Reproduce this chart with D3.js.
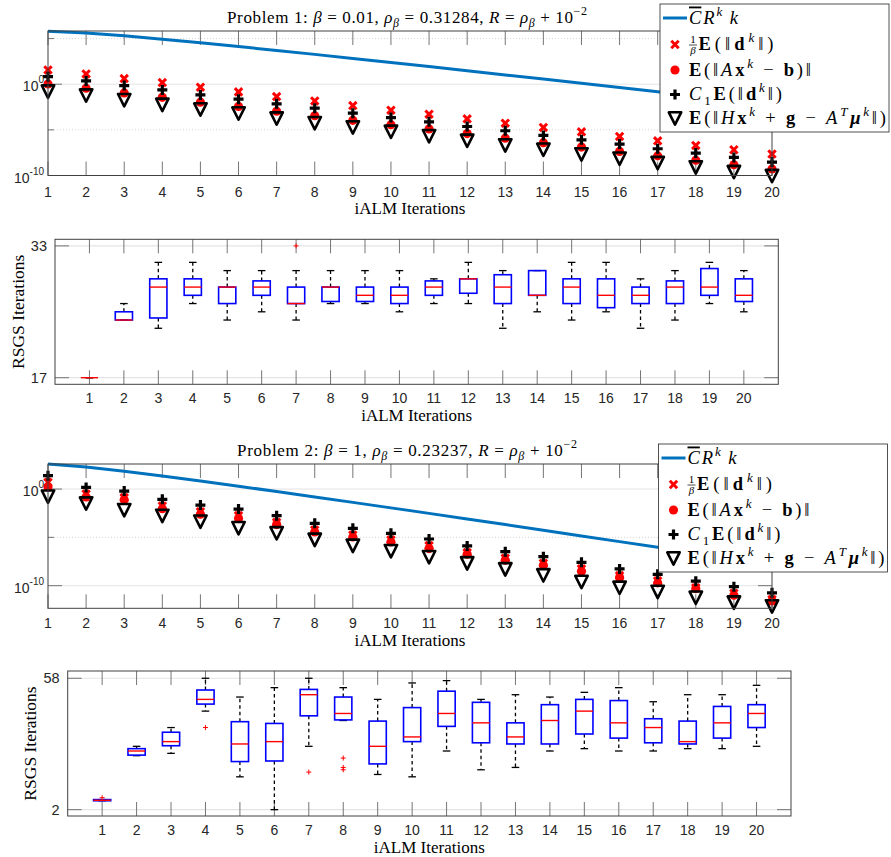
<!DOCTYPE html>
<html>
<head>
<meta charset="utf-8">
<script src="https://cdn.jsdelivr.net/npm/d3@7"></script>
<style>
  body { margin: 0; background: #fff; }
  svg { display: block; }
  text { white-space: pre; }
</style>
</head>
<body>
<svg width="891" height="857"></svg>
<script>
const SERIF = "'Liberation Serif', 'Times New Roman', serif";
const SANS = "'Liberation Sans', Arial, Helvetica, sans-serif";

let iterations = [1, 2, 3, 4, 5, 6, 7, 8, 9, 10, 11, 12, 13, 14, 15, 16, 17, 18, 19, 20];

// Problem 1 (beta = 0.01): log10 of each plotted quantity
let p1Bound    = [5.80, 5.61, 5.30, 4.93, 4.54, 4.12, 3.70, 3.27, 2.83, 2.38, 1.93, 1.48, 1.02, 0.56, 0.10, -0.36, -0.83, -1.29, -1.76, -2.23];
let p1DScaled  = [1.56, 1.13, 0.62, 0.18, -0.33, -0.84, -1.35, -1.83, -2.34, -2.85, -3.28, -3.79, -4.27, -4.74, -5.21, -5.72, -6.20, -6.71, -7.18, -7.65];
let p1Residual = [0.02, -0.44, -0.95, -1.44, -1.97, -2.43, -2.96, -3.45, -3.96, -4.43, -4.90, -5.41, -5.91, -6.40, -6.89, -7.36, -7.85, -8.33, -8.82, -9.29];
let p1DC1      = [0.83, 0.36, -0.15, -0.62, -1.17, -1.64, -2.15, -2.63, -3.17, -3.65, -4.12, -4.63, -5.10, -5.61, -6.09, -6.56, -7.07, -7.54, -8.02, -8.53];
let p1Stat     = [-0.81, -1.24, -1.75, -2.26, -2.77, -3.21, -3.76, -4.27, -4.74, -5.21, -5.69, -6.20, -6.71, -7.18, -7.69, -8.16, -8.64, -9.11, -9.62, -10.06];

// Problem 1: RSGS iterations per iALM iteration (box plot summary)
let p1Low  = [17, 24, 23, 26, 24, 25, 24, 26, 26, 25, 26, 26, 23, 25, 24, 25, 23, 24, 26, 25];
let p1Q1   = [17, 24, 24.25, 27, 26, 27, 26, 26.25, 26.25, 26, 27, 27.25, 26, 27, 26, 25.5, 26, 26, 27, 26.25];
let p1Med  = [17, 24, 28, 28, 28, 28, 26, 28, 27, 27, 28, 29, 28, 27, 28, 27, 27, 28, 28, 27];
let p1Q3   = [17, 25, 29, 29, 28, 28.75, 28, 28, 28, 28, 28.75, 29, 29.5, 30, 29, 29, 28, 28.75, 30.25, 29];
let p1High = [17, 26, 31, 31, 30, 30, 30, 30, 30, 30, 29, 31, 30, 30, 31, 31, 29, 30, 31, 30];
let p1Outliers = [[7, 33]];

// Problem 2 (beta = 1): log10 of each plotted quantity
let p2Bound    = [2.59, 2.28, 1.84, 1.35, 0.83, 0.29, -0.26, -0.82, -1.38, -1.95, -2.52, -3.10, -3.68, -4.27, -4.85, -5.44, -6.03, -6.62, -7.21, -7.80];
let p2DScaled  = [0.70, -0.51, -0.89, -1.75, -2.34, -2.75, -3.44, -4.23, -4.75, -5.26, -5.85, -6.57, -7.16, -7.68, -8.26, -8.95, -9.50, -10.21, -10.78, -11.42];
let p2Residual = [0.21, -0.82, -1.10, -2.03, -2.61, -3.06, -3.68, -4.44, -4.96, -5.47, -6.16, -6.75, -7.37, -7.89, -8.51, -9.16, -9.71, -10.30, -10.99, -11.58];
let p2DC1      = [1.38, 0.17, -0.21, -1.07, -1.66, -2.07, -2.76, -3.55, -4.07, -4.58, -5.17, -5.89, -6.48, -7.00, -7.58, -8.27, -8.82, -9.53, -10.10, -10.74];
let p2Stat     = [-0.79, -1.50, -2.19, -2.78, -3.38, -4.05, -4.58, -5.26, -5.88, -6.43, -7.05, -7.69, -8.31, -8.93, -9.62, -10.22, -10.65, -11.25, -11.75, -12.15];

// Problem 2: RSGS iterations per iALM iteration
let p2Low  = [5.8, 25, 26, 44, 16, 2, 29, 40, 17, 16, 27, 19, 20, 27, 28, 27, 27, 28, 28, 29];
let p2Q1   = [5.8, 25.25, 29.25, 47, 22.5, 22.75, 42, 40.25, 21.5, 31, 37.5, 30.5, 30, 30, 34.25, 32.5, 30.5, 30, 32.5, 37];
let p2Med  = [6, 27, 31, 49, 30, 31, 51, 43, 29, 33, 43, 39, 33, 40, 44, 39, 37, 31, 39, 43];
let p2Q3   = [6.3, 28, 35, 53, 39.5, 38.75, 53.25, 50, 39.75, 45.5, 52.5, 47.75, 39, 46.75, 49, 48.5, 40.75, 39.75, 46, 46.75];
let p2High = [6.3, 29, 37, 58, 50, 54, 58, 54, 49, 56, 57, 49, 51, 50, 52, 54, 48, 51, 51, 55];
let p2Outliers = [[1, 7.1], [4, 37], [7, 18], [8, 24], [8, 20], [8, 19]];

let legendParts = [
  [["C", "io"], ["R", "i"], ["k", "i^"], ["\u2009k", "i"]],
  [["E", "b"], ["(\u2016", ""], ["d", "b"], ["k", "i^"], ["\u2016)", ""]],
  [["E", "b"], ["(\u2016", ""], ["A", "i"], ["x", "b"], ["k", "i^"], [" \u2212 ", ""], ["b", "b"], [")\u2016", ""]],
  [["C", "i"], ["1", "_"], ["E", "b"], ["(\u2016", ""], ["d", "b"], ["k", "i^"], ["\u2016)", ""]],
  [["E", "b"], ["(\u2016", ""], ["H", "i"], ["x", "b"], ["k", "i^"], [" + ", ""], ["g", "b"], [" \u2212 ", ""],
   ["A", "i"], ["T", "i^"], ["\u03bc", "bi"], ["k", "i^"], ["\u2016)", ""]]
];
let legendWidths = [49, 75, 122, 93, 197];

let svg = d3.select("svg");
svg.append("rect").attr("width", 891).attr("height", 857).attr("fill", "#fff");

// writes a list of [text, style] pieces as tspans (i italic, b bold, ^ sup, _ sub, o overline)
function mathText(sel, parts, size) {
  let shift = 0;
  parts.forEach(function(p) {
    let s = p[1];
    let target = 0;
    if (s.indexOf("^") >= 0) target = -0.42 * size;
    if (s.indexOf("_") >= 0) target = 0.25 * size;
    let t = sel.append("tspan").text(p[0]).attr("dy", target - shift);
    shift = target;
    if (target !== 0) t.attr("font-size", Math.round(size * 0.7));
    if (s.indexOf("i") >= 0) t.attr("font-style", "italic");
    if (s.indexOf("b") >= 0) t.attr("font-weight", "bold");
    if (s.indexOf("o") >= 0) t.attr("text-decoration", "overline");
  });
}

let markers = {
  cross: "M-3.7,-3.7L3.7,3.7M-3.7,3.7L3.7,-3.7",
  plus: "M-5,0H5M0,-5V5",
  tri: "M-6.2,-6.2L6.2,-6.2L0,6.2Z"
};

function drawMarker(g, type, cx, cy) {
  let m = g.append("path").attr("transform", "translate(" + cx + "," + cy + ")");
  if (type === "cross") {
    m.attr("d", markers.cross).attr("stroke", "#ff0000").attr("stroke-width", 3).attr("fill", "none");
  } else if (type === "circle") {
    m.attr("d", d3.symbol(d3.symbolCircle, 66)()).attr("fill", "#ff0000");
  } else if (type === "plus") {
    m.attr("d", markers.plus).attr("stroke", "#000").attr("stroke-width", 3.2).attr("fill", "none");
  } else {
    m.attr("d", markers.tri).attr("stroke", "#000").attr("stroke-width", 2.6)
      .attr("stroke-linejoin", "round").attr("fill", "none");
  }
}

function xTicks(g, x, top, bottom, len) {
  iterations.forEach(function(k) {
    g.append("line").attr("x1", x(k)).attr("x2", x(k)).attr("y1", bottom).attr("y2", bottom - len)
      .attr("stroke", "#666").attr("stroke-width", 0.9);
    g.append("line").attr("x1", x(k)).attr("x2", x(k)).attr("y1", top).attr("y2", top + len)
      .attr("stroke", "#666").attr("stroke-width", 0.9);
  });
}

function xLabels(g, x, p) {
  g.selectAll(".xlab").data(iterations).enter().append("text")
    .attr("x", function(d) { return x(d); })
    .attr("y", p.bottom + p.labelGap)
    .attr("text-anchor", "middle")
    .attr("font-family", SANS).attr("font-size", 14)
    .attr("fill", "#262626")
    .text(function(d) { return d; });
  g.append("text")
    .attr("x", (p.left + p.right) / 2).attr("y", p.bottom + p.labelGap + 17.5)
    .attr("text-anchor", "middle")
    .attr("font-family", SERIF).attr("font-size", 17)
    .text("iALM Iterations");
}

function makeLogPanel(p) {
  let g = svg.append("g").attr("class", "log-panel");
  let x = d3.scaleLinear().domain([1, 20]).range([p.left, p.right]);
  let y = d3.scaleLog().domain(p.yDomain).range([p.bottom, p.top]);
  let pow = function(v) { return y(Math.pow(10, v)); };

  // grid: solid at the labelled decades, dotted at the ones in between
  p.majorExp.forEach(function(e) {
    g.append("line").attr("x1", p.left).attr("x2", p.right).attr("y1", pow(e)).attr("y2", pow(e))
      .attr("stroke", "#e4e4e4").attr("stroke-width", 1);
  });
  p.minorExp.forEach(function(e) {
    g.append("line").attr("x1", p.left).attr("x2", p.right).attr("y1", pow(e)).attr("y2", pow(e))
      .attr("stroke", "#c8c8c8").attr("stroke-width", 0.8).attr("stroke-dasharray", "1,2");
  });

  xTicks(g, x, p.top, p.bottom, 14);
  p.majorExp.concat(p.minorExp).forEach(function(e) {
    let len = p.majorExp.indexOf(e) >= 0 ? 14 : 6;
    g.append("line").attr("x1", p.left).attr("x2", p.left + len).attr("y1", pow(e)).attr("y2", pow(e))
      .attr("stroke", "#666").attr("stroke-width", 0.9);
    g.append("line").attr("x1", p.right).attr("x2", p.right - len).attr("y1", pow(e)).attr("y2", pow(e))
      .attr("stroke", "#666").attr("stroke-width", 0.9);
  });

  // bound line
  let line = d3.line()
    .x(function(d, i) { return x(iterations[i]); })
    .y(function(d) { return pow(d); });
  g.append("path").datum(p.bound).attr("d", line)
    .attr("fill", "none").attr("stroke", "#0072bd").attr("stroke-width", 3);

  let series = [[p.dScaled, "cross"], [p.residual, "circle"], [p.dC1, "plus"], [p.stat, "tri"]];
  series.forEach(function(s) {
    s[0].forEach(function(v, i) { drawMarker(g, s[1], x(iterations[i]), pow(v)); });
  });

  g.append("rect").attr("x", p.left).attr("y", p.top)
    .attr("width", p.right - p.left).attr("height", p.bottom - p.top)
    .attr("fill", "none").attr("stroke", "#404040").attr("stroke-width", 1);

  // y tick labels 10^e
  p.majorExp.forEach(function(e) {
    let t = g.append("text").attr("x", p.left - 4).attr("y", pow(e) + 7)
      .attr("text-anchor", "end").attr("font-family", SANS).attr("font-size", 14).attr("fill", "#262626");
    t.append("tspan").text("10");
    t.append("tspan").text(String(e)).attr("font-size", 10).attr("dy", -8);
  });

  xLabels(g, x, p);

  let title = g.append("text").attr("x", (p.left + p.right) / 2 - 3).attr("y", p.top - 8.5)
    .attr("text-anchor", "middle").attr("font-family", SERIF).attr("font-size", 17)
    .attr("textLength", p.titleWidth);
  mathText(title, p.title, 17);

  makeLegend(g, p.legendX, p.legendY);
}

function makeLegend(g, lx, ly) {
  let lg = g.append("g").attr("class", "legend");
  lg.append("rect").attr("x", lx).attr("y", ly).attr("width", 229).attr("height", 128)
    .attr("fill", "#fff").attr("stroke", "#262626").attr("stroke-width", 0.8);
  let rows = [14, 40.5, 66, 90.5, 114.5];
  let types = ["line", "cross", "circle", "plus", "tri"];
  rows.forEach(function(r, i) {
    let cy = ly + r;
    if (types[i] === "line") {
      lg.append("line").attr("x1", lx + 3).attr("x2", lx + 27).attr("y1", cy).attr("y2", cy)
        .attr("stroke", "#0072bd").attr("stroke-width", 3);
    } else {
      drawMarker(lg, types[i], lx + 15, cy);
    }
    let tx = lx + 29;
    if (i === 1) {
      // 1/beta fraction in front of the second entry
      lg.append("text").attr("x", tx + 4).attr("y", cy - 1.5).attr("text-anchor", "middle")
        .attr("font-family", SERIF).attr("font-size", 11).text("1");
      lg.append("line").attr("x1", tx).attr("x2", tx + 8).attr("y1", cy + 0.5).attr("y2", cy + 0.5)
        .attr("stroke", "#000").attr("stroke-width", 0.7);
      lg.append("text").attr("x", tx + 4).attr("y", cy + 9).attr("text-anchor", "middle")
        .attr("font-family", SERIF).attr("font-size", 11).attr("font-style", "italic").text("\u03b2");
      tx += 9.5;
    }
    let t = lg.append("text").attr("x", tx).attr("y", cy + 5.5)
      .attr("font-family", SERIF).attr("font-size", 18.5)
      .attr("textLength", legendWidths[i]);
    mathText(t, legendParts[i], 18.5);
  });
}

function makeBoxPanel(p) {
  let g = svg.append("g").attr("class", "box-panel");
  let x = d3.scaleLinear().domain([0, 21]).range([p.left, p.right]);
  let y = d3.scaleLinear().domain(p.yDomain).range([p.bottom, p.top]);
  let boxes = iterations.map(function(k, i) {
    return {k: k, lo: p.low[i], q1: p.q1[i], med: p.med[i], q3: p.q3[i], hi: p.high[i]};
  });

  p.yTicks.forEach(function(v) {
    g.append("line").attr("x1", p.left).attr("x2", p.right).attr("y1", y(v)).attr("y2", y(v))
      .attr("stroke", "#e4e4e4").attr("stroke-width", 1.2);
    g.append("line").attr("x1", p.left).attr("x2", p.left + 14).attr("y1", y(v)).attr("y2", y(v))
      .attr("stroke", "#666").attr("stroke-width", 0.9);
    g.append("line").attr("x1", p.right).attr("x2", p.right - 14).attr("y1", y(v)).attr("y2", y(v))
      .attr("stroke", "#666").attr("stroke-width", 0.9);
    g.append("text").attr("x", p.left - 8).attr("y", y(v) + 5).attr("text-anchor", "end")
      .attr("font-family", SANS).attr("font-size", 14.5).attr("fill", "#262626").text(v);
  });
  xTicks(g, x, p.top, p.bottom, 14);

  let box = g.selectAll(".box").data(boxes).enter().append("g").attr("class", "box");
  box.append("line").attr("class", "whisker")
    .attr("x1", function(d) { return x(d.k); }).attr("x2", function(d) { return x(d.k); })
    .attr("y1", function(d) { return y(d.q3); }).attr("y2", function(d) { return y(d.hi); });
  box.append("line").attr("class", "whisker")
    .attr("x1", function(d) { return x(d.k); }).attr("x2", function(d) { return x(d.k); })
    .attr("y1", function(d) { return y(d.q1); }).attr("y2", function(d) { return y(d.lo); });
  box.selectAll(".whisker").attr("stroke", "#000").attr("stroke-width", 1.3).attr("stroke-dasharray", "3.5,3");
  ["hi", "lo"].forEach(function(key) {
    box.append("line")
      .attr("x1", function(d) { return x(d.k - 0.11); }).attr("x2", function(d) { return x(d.k + 0.11); })
      .attr("y1", function(d) { return y(d[key]); }).attr("y2", function(d) { return y(d[key]); })
      .attr("stroke", "#000").attr("stroke-width", 1.3);
  });
  box.append("rect")
    .attr("x", function(d) { return x(d.k - 0.25); })
    .attr("width", function(d) { return x(d.k + 0.25) - x(d.k - 0.25); })
    .attr("y", function(d) { return y(d.q3); })
    .attr("height", function(d) { return y(d.q1) - y(d.q3); })
    .attr("fill", "none").attr("stroke", "#0000ff").attr("stroke-width", 1.6);
  box.append("line")
    .attr("x1", function(d) { return x(d.k - 0.25); }).attr("x2", function(d) { return x(d.k + 0.25); })
    .attr("y1", function(d) { return y(d.med); }).attr("y2", function(d) { return y(d.med); })
    .attr("stroke", "#ff0000").attr("stroke-width", 1.4);

  g.selectAll(".outlier").data(p.outliers).enter().append("path")
    .attr("transform", function(d) { return "translate(" + x(d[0]) + "," + y(d[1]) + ")"; })
    .attr("d", "M-2.5,0H2.5M0,-2.5V2.5")
    .attr("stroke", "#ff0000").attr("stroke-width", 1);

  g.append("rect").attr("x", p.left).attr("y", p.top)
    .attr("width", p.right - p.left).attr("height", p.bottom - p.top)
    .attr("fill", "none").attr("stroke", "#404040").attr("stroke-width", 1);

  xLabels(g, x, p);

  g.append("text")
    .attr("transform", "translate(" + p.yLabelX + "," + ((p.top + p.bottom) / 2) + ") rotate(-90)")
    .attr("text-anchor", "middle").attr("font-family", SERIF).attr("font-size", 17.5)
    .text("RSGS Iterations");
}

makeLogPanel({
  left: 48, right: 772, top: 31, bottom: 175.5, labelGap: 21,
  yDomain: [1e-10, Math.pow(10, 5.83)],
  majorExp: [0, -10], minorExp: [5, -5],
  bound: p1Bound, dScaled: p1DScaled, residual: p1Residual, dC1: p1DC1, stat: p1Stat,
  legendX: 660, legendY: 4, titleWidth: 360,
  title: [["Problem 1: ", ""], ["\u03b2", "i"], [" = 0.01, ", ""], ["\u03c1", "i"], ["\u03b2", "i_"],
          [" = 0.31284, ", ""], ["R", "i"], [" = ", ""], ["\u03c1", "i"], ["\u03b2", "i_"],
          [" + 10", ""], ["\u22122", "^"]]
});

makeBoxPanel({
  left: 55, right: 778.3, top: 239.3, bottom: 384.3, labelGap: 19, yLabelX: 24,
  yDomain: [16.2, 33.8], yTicks: [17, 33],
  low: p1Low, q1: p1Q1, med: p1Med, q3: p1Q3, high: p1High, outliers: p1Outliers
});

makeLogPanel({
  left: 48, right: 772, top: 464, bottom: 608.3, labelGap: 20,
  yDomain: [Math.pow(10, -12.34), Math.pow(10, 2.59)],
  majorExp: [0, -10], minorExp: [-5],
  bound: p2Bound, dScaled: p2DScaled, residual: p2Residual, dC1: p2DC1, stat: p2Stat,
  legendX: 658.5, legendY: 444, titleWidth: 340,
  title: [["Problem 2: ", ""], ["\u03b2", "i"], [" = 1, ", ""], ["\u03c1", "i"], ["\u03b2", "i_"],
          [" = 0.23237, ", ""], ["R", "i"], [" = ", ""], ["\u03c1", "i"], ["\u03b2", "i_"],
          [" + 10", ""], ["\u22122", "^"]]
});

makeBoxPanel({
  left: 67.7, right: 791, top: 671, bottom: 816, labelGap: 19, yLabelX: 36,
  yDomain: [-0.7, 61.1], yTicks: [2, 58],
  low: p2Low, q1: p2Q1, med: p2Med, q3: p2Q3, high: p2High, outliers: p2Outliers
});
</script>
</body>
</html>
